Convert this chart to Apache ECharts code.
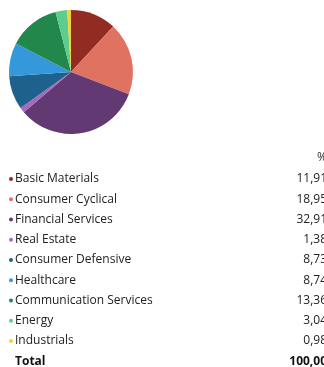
<!DOCTYPE html>
<html>
<head>
<meta charset="utf-8">
<script src="https://cdn.jsdelivr.net/npm/echarts@6/dist/echarts.min.js"></script>
<style>
  html, body { margin: 0; padding: 0; background: #fff; }
  #chart { width: 324px; height: 367px; }
</style>
</head>
<body>
<div id="chart"></div>
<script>
// Sector allocation, in percent
const sectors = [
  'Basic Materials', 'Consumer Cyclical', 'Financial Services', 'Real Estate',
  'Consumer Defensive', 'Healthcare', 'Communication Services', 'Energy', 'Industrials'
];
const weights = [11.91, 18.95, 32.91, 1.38, 8.73, 8.74, 13.36, 3.04, 0.98];
const weightLabels = ['11,91', '18,95', '32,91', '1,38', '8,73', '8,74', '13,36', '3,04', '0,98'];
const totalLabel = '100,00';
const colors = ['#922B21', '#E07262', '#633974', '#A569BD', '#1F618D', '#3498DB', '#21874B', '#5ECC8C', '#F4D03F'];

const chart = echarts.init(document.getElementById('chart'), null, { renderer: 'canvas' });

const font = '"Open Sans", sans-serif';
const rowTop = 179;     // centre of first row
const rowStep = 20.25;  // row spacing
const textX = 15;
const valueX = 327;

const graphics = [];
graphics.push({
  type: 'text', left: null, x: valueX, y: 158,
  style: { text: '%', font: '12px ' + font, fill: '#333', textAlign: 'right', textVerticalAlign: 'middle' }
});
sectors.forEach((name, i) => {
  const y = rowTop + i * rowStep;
  graphics.push({
    type: 'circle', shape: { cx: 11, cy: y, r: 2 }, style: { fill: colors[i] }
  });
  graphics.push({
    type: 'text', x: textX, y: y,
    style: { text: name, font: '12px ' + font, fill: '#222', textAlign: 'left', textVerticalAlign: 'middle' }
  });
  graphics.push({
    type: 'text', x: valueX, y: y,
    style: { text: weightLabels[i], font: '12px ' + font, fill: '#222', textAlign: 'right', textVerticalAlign: 'middle' }
  });
});
const totalY = rowTop + sectors.length * rowStep;
graphics.push({
  type: 'text', x: textX, y: totalY,
  style: { text: 'Total', font: 'bold 12px ' + font, fill: '#111', textAlign: 'left', textVerticalAlign: 'middle' }
});
graphics.push({
  type: 'text', x: valueX, y: totalY,
  style: { text: totalLabel, font: 'bold 12px ' + font, fill: '#111', textAlign: 'right', textVerticalAlign: 'middle' }
});

chart.setOption({
  animation: false,
  backgroundColor: '#fff',
  color: colors,
  series: [{
    type: 'pie',
    center: [71, 72],
    radius: [0, 62],
    startAngle: 90,
    clockwise: true,
    label: { show: false },
    labelLine: { show: false },
    emphasis: { disabled: true },
    itemStyle: { borderWidth: 0 },
    data: sectors.map((name, i) => ({ name: name, value: weights[i] }))
  }],
  graphic: graphics
});
</script>
</body>
</html>
